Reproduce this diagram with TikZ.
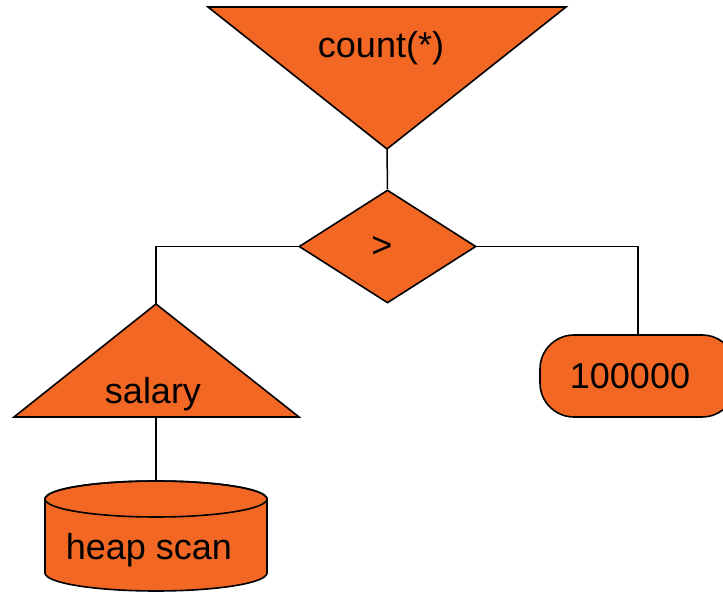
\documentclass[tikz,border=0pt]{standalone}
\usepackage{fontspec}
\setmainfont{Liberation Sans}
\usetikzlibrary{shapes.geometric}
\definecolor{planorange}{RGB}{243,103,36}

\begin{document}
\begin{tikzpicture}[x=0.5pt,y=-0.5pt,
    op/.style={draw=black,line width=0.8pt,fill=planorange},
    lbl/.style={inner sep=0pt,font=\fontsize{18}{21}\selectfont},
    wire/.style={draw=black,line width=0.75pt}]
    \useasboundingbox (0,0) rectangle (723,592);

    % Aggregate on top
    \path[op] (208,7) -- (566,7) -- (387,149) -- cycle;
    \coordinate (aggtip) at (387,149);
    \node[lbl] (agg) at (381,48) {count(*)};

    % Comparison
    \node[op,diamond,inner sep=0pt,minimum width=88.5pt,minimum height=56.5pt] (cmp) at (387.5,246.5) {};
    \node[lbl] (gt) at (382,247) {>};
    \draw[wire] (aggtip) -- (cmp.north);

    % Left input: index on salary
    \path[op] (156,304) -- (299,417) -- (14,417) -- cycle;
    \coordinate (idxtip) at (156,304);
    \coordinate (idxbase) at (156,417);
    \node[lbl] (idx) at (153,394) {salary};
    \draw[wire] (cmp.west) -| (idxtip);

    % Right input: constant
    \node[op,rectangle,rounded corners=17pt,minimum width=98pt,minimum height=41pt] (const) at (638,376) {};
    \node[lbl] (val) at (630,376.5) {100000};
    \draw[wire] (cmp.east) -| (const.north);

    % Scan below the index
    \path[op] (45,499) -- (45,573) arc[start angle=180,end angle=0,x radius=111,y radius=18]
        -- (267,499) arc[start angle=0,end angle=-180,x radius=111,y radius=18] -- cycle;
    \draw[line width=0.8pt] (156,499) ellipse[x radius=111,y radius=18];
    \coordinate (scantop) at (156,481);
    \node[lbl] (scan) at (149,550) {heap scan};
    \draw[wire] (idxbase) -- (scantop);
\end{tikzpicture}
\end{document}
